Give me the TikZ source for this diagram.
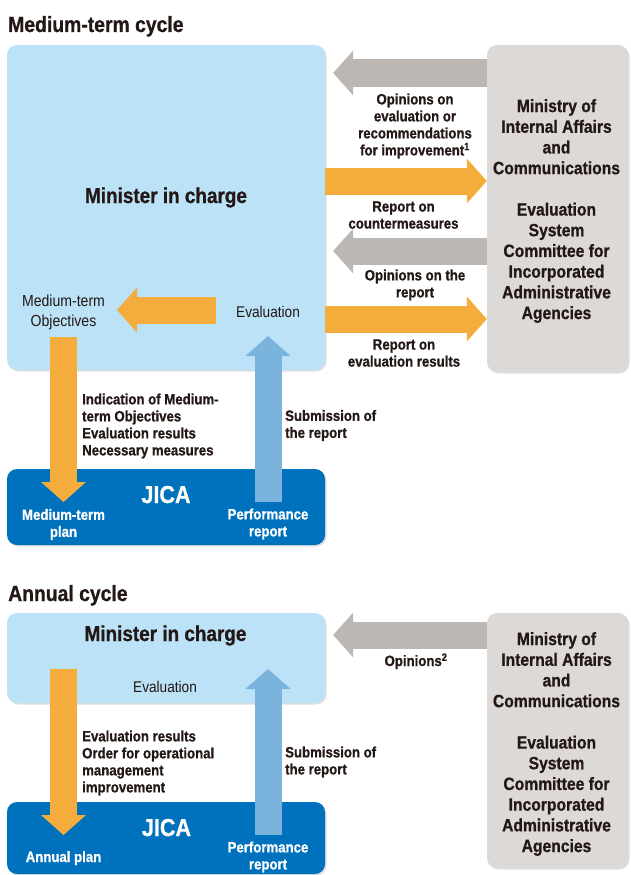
\documentclass[tikz,border=0pt]{standalone}
\usepackage{fontspec}
\setmainfont{Liberation Sans}[FakeStretch=0.88, BoldFeatures={FakeBold=0.8}]
\usetikzlibrary{arrows.meta,shadows,positioning}

\definecolor{minblue}{RGB}{187,226,247}
\definecolor{jicablue}{RGB}{0,113,188}
\definecolor{upblue}{RGB}{122,180,221}
\definecolor{mgray}{RGB}{220,217,214}
\definecolor{agray}{RGB}{189,183,179}
\definecolor{aorange}{RGB}{244,173,61}
\definecolor{ink}{RGB}{35,24,21}

\begin{document}
\begin{tikzpicture}[
  x=1pt, y=-1pt,
  box/.style={
    rectangle,
    rounded corners=10pt,
    inner sep=0pt,
    drop shadow={shadow xshift=1.5pt, shadow yshift=-1.5pt, opacity=0.25}
  },
  mbox/.style={box, fill=minblue, minimum width=318pt},
  jbox/.style={box, fill=jicablue, minimum width=318pt},
  gbox/.style={box, fill=mgray, minimum width=141pt},
  gtext/.style={align=center, text=ink, inner sep=0pt,
    font=\bfseries\fontsize{17.8}{20.7}\selectfont},
  fat/.style={line width=27pt,
    -{Triangle[width=45pt,length=20pt,line width=0pt]}},
  ttl/.style={font=\bfseries\fontsize{22}{26}\selectfont,
    text=ink, inner sep=0pt, anchor=base west},
  big/.style={font=\bfseries\fontsize{21.5}{24}\selectfont,
    text=ink, inner sep=0pt, anchor=base},
  jname/.style={font=\bfseries\fontsize{24.5}{28}\selectfont,
    text=white, inner sep=0pt, anchor=base},
  lbl/.style={font=\bfseries\fontsize{15}{17}\selectfont,
    text=ink, align=center, inner sep=0pt},
  wlbl/.style={lbl, text=white},
  reg/.style={font=\fontsize{15.5}{20}\selectfont,
    text=ink, align=center, inner sep=0pt}
]
\useasboundingbox (0,0) rectangle (630,875);

% ---------- medium-term cycle ----------
\node[ttl] (mtitle) at (8,32) {Medium-term cycle};

\node[mbox, minimum height=325pt] (minister) at (166,207.5) {};
\node[gbox, minimum height=327pt] (mic) at (557.5,208.5) {};
\node[jbox, minimum height=76pt] (jica) at (166,507) {};

\node[gtext] (mic text) at (556.5,211)
  {Ministry of\\Internal Affairs\\and\\Communications\\[20.7pt]%
   Evaluation\\System\\Committee for\\Incorporated\\Administrative\\Agencies};
\node[big] (mname) at (166,203) {Minister in charge};
\node[reg, font=\fontsize{16}{20}\selectfont] (mobj) at (63.5,312)
  {Medium-term\\Objectives};
\node[reg, anchor=base] (meval) at (268,317) {Evaluation};

% free ends of the inner arrows
\coordinate (ol tail) at (216,310);
\coordinate (ol head) at (117,310);
\coordinate (od tail) at (63.5,337);
\coordinate (od head) at (63.5,502);
\coordinate (ou tail) at (268,502);
\coordinate (ou head) at (268,336);

\draw[fat, agray, shorten >=8pt] (mic.west |- 0,73) -- (minister.east |- 0,73);
\draw[fat, aorange] (minister.east |- 0,181) -- (mic.west |- 0,181);
\draw[fat, agray, shorten >=8pt] (mic.west |- 0,251) -- (minister.east |- 0,251);
\draw[fat, aorange] (minister.east |- 0,319) -- (mic.west |- 0,319);
\draw[fat, aorange] (ol tail) -- (ol head);
\draw[fat, aorange] (od tail) -- (od head);
\draw[fat, upblue] (ou tail) -- (ou head);

\node[lbl] (mop1) at (415,126)
  {Opinions on\\evaluation or\\recommendations\\for improvement\textsuperscript{1}};
\node[lbl] (mrc) at (403.5,215) {Report on\\countermeasures};
\node[lbl] (mop2) at (415,285) {Opinions on the\\report};
\node[lbl] (mrr) at (404,353) {Report on\\evaluation results};

\node[lbl, align=left, anchor=west] (mind) at (82,426)
  {Indication of Medium-\\term Objectives\\Evaluation results\\Necessary measures};
\node[lbl, align=left, anchor=west] (msub) at (285,425.5)
  {Submission of\\the report};

\node[jname] (mjica) at (166,503) {JICA};
\node[wlbl] (mplan) at (63.5,524.5) {Medium-term\\plan};
\node[wlbl] (mperf) at (268,524) {Performance\\report};

% ---------- annual cycle ----------
\node[ttl] (atitle) at (8,601) {Annual cycle};

\node[mbox, minimum height=90pt] (minister2) at (166,658) {};
\node[gbox, minimum height=255pt] (mic2) at (557.5,740.5) {};
\node[jbox, minimum height=72pt] (jica2) at (166,838) {};

\node[gtext] (mic2 text) at (556.5,744)
  {Ministry of\\Internal Affairs\\and\\Communications\\[20.7pt]%
   Evaluation\\System\\Committee for\\Incorporated\\Administrative\\Agencies};
\node[big] (aname) at (165.5,641) {Minister in charge};
\node[reg, anchor=base] (aeval) at (165,692) {Evaluation};

\coordinate (ad tail) at (63.5,669);
\coordinate (ad head) at (63.5,835);
\coordinate (au tail) at (268,835);
\coordinate (au head) at (268,669);

\draw[fat, agray, shorten >=8pt] (mic2.west |- 0,635) -- (minister2.east |- 0,635);
\draw[fat, aorange] (ad tail) -- (ad head);
\draw[fat, upblue] (au tail) -- (au head);

\node[lbl, anchor=base] (aop) at (416,666) {Opinions\textsuperscript{2}};
\node[lbl, align=left, anchor=west] (aord) at (82,763)
  {Evaluation results\\Order for operational\\management\\improvement};
\node[lbl, align=left, anchor=west] (asub) at (285,762)
  {Submission of\\the report};

\node[jname] (ajica) at (166.5,836) {JICA};
\node[wlbl, anchor=base] (aplan) at (63.5,862) {Annual plan};
\node[wlbl] (aperf) at (268,857) {Performance\\report};
\end{tikzpicture}
\end{document}
